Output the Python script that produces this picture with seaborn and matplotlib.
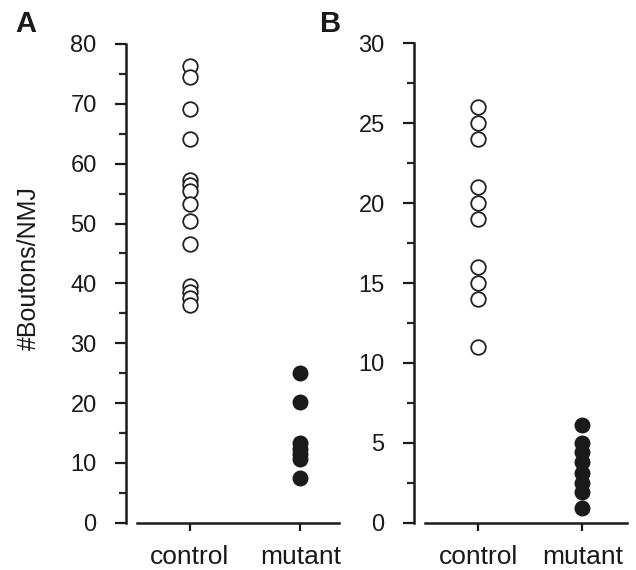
import pandas as pd
import matplotlib
matplotlib.use("Agg")
import matplotlib.pyplot as plt
from matplotlib.ticker import MultipleLocator
import seaborn as sns

# bouton counts
groups = ["control", "mutant"]

a_control = [76.3, 74.5, 69.1, 64.2, 57.3, 56.5, 55.5, 53.2, 50.5, 46.6,
             39.5, 38.6, 37.6, 36.3]
a_mutant = [25.1, 20.2, 13.3, 12.3, 11.5, 10.6, 7.5]

b_control = [26, 25, 24, 21, 20, 19, 16, 15, 14, 11]
b_mutant = [6.1, 5.0, 4.4, 3.8, 3.1, 2.5, 1.9, 0.9]


def make_df(ctrl, mut):
    return pd.DataFrame({
        "group": ["control"] * len(ctrl) + ["mutant"] * len(mut),
        "count": ctrl + mut,
    })


sns.set_style("ticks")
plt.rcParams["font.family"] = ["Liberation Sans", "DejaVu Sans"]

W, H = 636, 570
fig = plt.figure(figsize=(W / 100, H / 100), dpi=100)


def draw_panel(ax, df, ymax, major, minor, xlim):
    ctrl = df[df["group"] == "control"]
    mut = df[df["group"] == "mutant"]
    sns.stripplot(data=ctrl, x="group", y="count", order=groups, jitter=False,
                  color="white", edgecolor="#222222", linewidth=1.3, size=10.5,
                  ax=ax, zorder=3)
    sns.stripplot(data=mut, x="group", y="count", order=groups, jitter=False,
                  color="#1a1a1a", edgecolor="#1a1a1a", linewidth=0, size=11.5,
                  ax=ax, zorder=3)
    ax.set_xlim(*xlim)
    ax.set_ylim(0, ymax)
    ax.yaxis.set_major_locator(MultipleLocator(major))
    ax.yaxis.set_minor_locator(MultipleLocator(minor))
    ax.set_xlabel("")
    ax.set_ylabel("")
    sns.despine(ax=ax)
    ax.spines["left"].set_position(("outward", 8))
    for s in ["left", "bottom"]:
        ax.spines[s].set_linewidth(1.8)
        ax.spines[s].set_color("#1a1a1a")
    ax.tick_params(axis="y", which="major", length=8, width=1.6, pad=13,
                   labelsize=17, colors="#1a1a1a")
    ax.tick_params(axis="y", which="minor", length=5, width=1.6)
    ax.tick_params(axis="x", which="major", length=6, width=1.6, pad=10,
                   labelsize=19, colors="#1a1a1a")


bottom = (H - 522.7) / H
ax_a = fig.add_axes([137 / W, bottom, 202 / W, (522.7 - 44) / H])
draw_panel(ax_a, make_df(a_control, a_mutant), 80, 10, 5, (-0.48, 1.35))

ax_b = fig.add_axes([425 / W, bottom, 202 / W, (522.7 - 43.3) / H])
draw_panel(ax_b, make_df(b_control, b_mutant), 30, 5, 2.5, (-0.51, 1.43))

fig.text(29 / W, 1 - 268 / H, "#Boutons/NMJ", rotation=90, fontsize=18,
         ha="center", va="center", color="#1a1a1a")
fig.text(15 / W, 1 - 24 / H, "A", fontsize=21, fontweight="bold",
         ha="left", va="center", color="#1a1a1a")
fig.text(320 / W, 1 - 24 / H, "B", fontsize=21, fontweight="bold",
         ha="left", va="center", color="#1a1a1a")

fig.savefig("out.png", dpi=100, facecolor="white")
